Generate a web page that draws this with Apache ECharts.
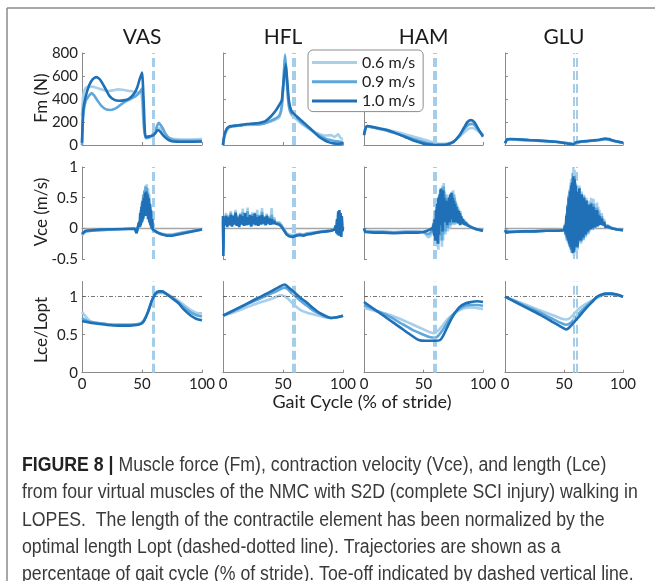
<!DOCTYPE html>
<html><head><meta charset="utf-8">
<script src="https://cdn.jsdelivr.net/npm/echarts@6/dist/echarts.min.js"></script>
<style>html,body{margin:0;padding:0;background:#fff}#c{width:655px;height:581px}</style>
</head><body><div id="c"></div>
<script>
// ---------- DATA ----------
const muscles = ['VAS', 'HFL', 'HAM', 'GLU'];
const speeds = ['0.6 m/s', '0.9 m/s', '1.0 m/s'];
const rowLabels = ['Fm (N)', 'Vce (m/s)', 'Lce/Lopt'];
const xTicks = [0, 50, 100];
const fmTicks = [0, 200, 400, 600, 800];
const vceTicks = [-0.5, 0, 0.5, 1];
const lceTicks = [0, 0.5, 1];
const fmRange = [0, 800];
const vceRange = [-0.5, 1];
const lceRange = [0, 1.2];
const loptValue = 1;
const toeOffVAS = [58.6, 59.8];
const toeOffHFL = [58.2, 59.4];
const toeOffHAM = [58.3, 60.3];
const toeOffGLU = [58.6, 60.4];
const xAxisTitle = 'Gait Cycle (% of stride)';
const captionLines = [
  '{b|FIGURE 8 |} Muscle force (Fm), contraction velocity (Vce), and length (Lce)',
  'from four virtual muscles of the NMC with S2D (complete SCI injury) walking in',
  'LOPES.  The length of the contractile element has been normalized by the',
  'optimal length Lopt (dashed-dotted line). Trajectories are shown as a',
  'percentage of gait cycle (% of stride). Toe-off indicated by dashed vertical line.'
];

// Row 1: muscle force Fm (N), [gait %, value]
const vasFm06 = [[0,250],[1,430],[3,495],[6,510],[10,505],[14,492],[18,478],[22,470],[26,476],[30,484],[34,480],[38,472],[42,466],[46,458],[49,462],[50,400],[51.5,150],[53,65],[56,70],[59,95],[62,135],[65,145],[68,105],[71,70],[75,55],[80,50],[90,48],[100,52]];
const vasFm09 = [[0,0],[1,250],[3,380],[6,430],[8,452],[10,432],[13,385],[16,342],[20,310],[24,305],[28,318],[32,348],[36,378],[40,398],[44,420],[48,458],[50,490],[51.5,200],[53,60],[56,65],[59,90],[62,150],[64,192],[67,150],[70,92],[73,58],[77,42],[85,36],[100,36]];
const vasFm10 = [[0,20],[1,300],[3,420],[6,520],[9,572],[12,590],[15,570],[19,500],[23,425],[27,392],[31,385],[35,388],[39,402],[43,440],[46,500],[48,570],[50,630],[51.5,350],[53,70],[56,75],[59,82],[61,100],[63,130],[65,118],[68,80],[72,45],[76,30],[85,28],[100,30]];
const hflFm06 = [[0,0],[1,60],[3,120],[5,148],[8,160],[12,165],[16,170],[20,175],[25,175],[30,182],[35,190],[40,205],[44,222],[47,245],[49,330],[50.5,560],[51.7,790],[53,600],[54.5,380],[56,290],[58,250],[62,215],[66,180],[70,150],[74,125],[78,105],[82,90],[86,82],[90,86],[93,70],[96,92],[98,60],[100,55]];
const hflFm09 = [[0,0],[1,70],[3,130],[5,155],[8,165],[12,170],[16,175],[20,180],[25,180],[30,178],[35,190],[40,212],[44,232],[47,255],[49,340],[50.5,580],[51.7,780],[53,580],[54.5,370],[56,290],[58,262],[62,232],[66,192],[70,160],[74,128],[78,98],[82,72],[86,52],[90,42],[95,32],[100,26]];
const hflFm10 = [[0,0],[1,80],[3,140],[5,160],[8,165],[12,170],[16,175],[20,182],[25,186],[30,192],[35,205],[40,250],[44,300],[47,350],[49,390],[50.5,550],[52.3,705],[53.5,560],[55,380],[57,295],[60,262],[64,225],[68,188],[72,150],[76,110],[80,72],[84,45],[88,25],[92,14],[96,10],[100,14]];
const hamFm06 = [[0,90],[1.5,150],[3,160],[6,155],[10,150],[15,141],[20,131],[25,119],[30,106],[35,92],[40,78],[45,63],[50,48],[55,33],[60,18],[65,10],[70,12],[75,30],[80,70],[85,118],[88,142],[91,148],[94,135],[97,112],[100,88]];
const hamFm09 = [[0,95],[1.5,155],[3,165],[6,156],[10,146],[15,135],[20,121],[25,106],[30,90],[35,73],[40,56],[45,41],[50,26],[55,13],[60,5],[65,3],[70,8],[75,28],[80,80],[85,148],[88,178],[91,184],[94,160],[97,120],[100,84]];
const hamFm10 = [[0,85],[1.5,150],[3,165],[6,160],[10,151],[15,140],[20,128],[25,110],[30,90],[35,68],[40,46],[45,28],[50,12],[55,4],[60,0],[65,0],[70,5],[75,25],[80,80],[84,150],[87,200],[90,216],[93,196],[96,140],[100,72]];
const gluFm06 = [[0,15],[2,45],[5,48],[10,45],[20,40],[30,35],[40,30],[50,22],[55,15],[58,10],[60,20],[65,28],[70,33],[75,38],[80,42],[85,46],[88,44],[92,35],[96,26],[100,20]];
const gluFm09 = [[0,15],[2,48],[5,50],[10,47],[20,42],[30,36],[40,30],[50,20],[55,12],[58,7],[60,21],[65,29],[70,34],[75,39],[80,44],[85,50],[88,47],[92,36],[96,27],[100,20]];
const gluFm10 = [[0,15],[2,50],[5,52],[10,50],[20,44],[30,38],[40,30],[50,18],[55,10],[58,5],[60,22],[65,30],[70,35],[75,40],[80,46],[85,56],[88,51],[92,38],[96,28],[100,20]];

// Row 2: contraction velocity Vce (m/s)
const vasVce06 = [[0,-0.12],[1,-0.08],[3,-0.05],[8,-0.04],[15,-0.03],[25,-0.02],[35,-0.01],[44,0],[46,-0.05],[47,0.05],[48,0.1],[48.5,0.02],[49,0.25],[49.5,0.1],[50,0.4],[50.5,0.15],[51,0.5],[51.5,0.2],[52,0.6],[52.5,0.3],[53,0.7],[53.5,0.35],[54,0.72],[54.5,0.3],[55,0.65],[55.5,0.2],[56,0.55],[56.5,0.1],[57,0.4],[57.5,0.05],[58,0.25],[58.5,0],[59,0.12],[60,-0.02],[62,-0.05],[65,-0.08],[70,-0.1],[75,-0.1],[80,-0.08],[85,-0.06],[90,-0.05],[95,-0.03],[100,-0.02]];
const vasVce09 = [[0,-0.1],[1,-0.07],[3,-0.05],[8,-0.04],[15,-0.03],[25,-0.02],[35,-0.01],[44,0],[46,-0.04],[47,0.04],[48,0.12],[48.5,0.03],[49,0.3],[49.5,0.08],[50,0.42],[50.5,0.12],[51,0.55],[51.5,0.18],[52,0.62],[52.5,0.25],[53,0.68],[53.5,0.3],[54,0.66],[54.5,0.22],[55,0.58],[55.5,0.15],[56,0.48],[56.5,0.08],[57,0.35],[57.5,0.02],[58,0.2],[58.5,-0.02],[59,0.08],[60,-0.03],[62,-0.06],[65,-0.09],[70,-0.11],[75,-0.11],[80,-0.09],[85,-0.07],[90,-0.05],[95,-0.03],[100,-0.02]];
const vasVce10 = [[0,-0.09],[1,-0.06],[3,-0.04],[8,-0.03],[15,-0.02],[25,-0.015],[35,-0.01],[44,-0.01],[45.5,-0.08],[46.5,0.02],[47.5,0.1],[48,0.02],[48.5,0.25],[49,0.05],[49.5,0.35],[50,0.1],[50.5,0.45],[51,0.15],[51.5,0.5],[52,0.2],[52.5,0.58],[53,0.25],[53.5,0.6],[54,0.2],[54.5,0.55],[55,0.15],[55.5,0.5],[56,0.1],[56.5,0.4],[57,0.05],[57.5,0.3],[58,0],[58.5,0.15],[59,-0.02],[60,-0.04],[63,-0.07],[67,-0.1],[71,-0.12],[75,-0.12],[80,-0.1],[85,-0.08],[90,-0.06],[95,-0.04],[100,-0.02]];
const hflVce06 = [[0,0.1],[0.3,-0.25],[0.7,0.2],[1.5,0.08],[2.5,0.25],[3.5,0.05],[4.5,0.22],[5.5,0.1],[6.5,0.28],[7.5,0.05],[8.5,0.2],[9.5,0.1],[10.5,0.3],[11.5,0.06],[12.5,0.22],[13.5,0.05],[14.5,0.25],[15.5,0.08],[16.5,0.32],[17.5,0.06],[18.5,0.22],[19.5,0.08],[20.5,0.34],[21.5,0.05],[22.5,0.2],[23.5,0.08],[24.5,0.26],[25.5,0.05],[26.5,0.22],[27.5,0.08],[28.5,0.3],[29.5,0.06],[30.5,0.2],[31.5,0.1],[32.5,0.33],[33.5,0.06],[34.5,0.2],[35.5,0.1],[36.5,0.24],[37.5,0.06],[38.5,0.2],[39.5,0.1],[40.5,0.33],[41.5,0.08],[42.5,0.18],[43.5,0.1],[45,0.12],[47,0.1],[49,0.05],[51,-0.02],[53,-0.08],[55,-0.1],[58,-0.11],[61,-0.1],[64,-0.09],[67,-0.1],[70,-0.08],[74,-0.07],[78,-0.06],[82,-0.05],[86,-0.04],[90,-0.03],[93,-0.02],[94,0.02],[94.5,-0.06],[95,0.1],[95.5,-0.08],[96,0.2],[96.5,-0.1],[97,0.22],[97.5,-0.04],[98,0.18],[98.5,-0.1],[99,0.12],[99.5,-0.03],[100,0]];
const hflVce09 = [[0,0.15],[0.3,-0.35],[0.7,0.18],[1.5,0.06],[2.5,0.22],[3.5,0.04],[4.5,0.2],[5.5,0.08],[6.5,0.25],[7.5,0.04],[8.5,0.22],[9.5,0.07],[10.5,0.27],[11.5,0.05],[12.5,0.2],[13.5,0.04],[14.5,0.23],[15.5,0.07],[16.5,0.26],[17.5,0.05],[18.5,0.24],[19.5,0.06],[20.5,0.28],[21.5,0.06],[22.5,0.21],[23.5,0.05],[24.5,0.23],[25.5,0.06],[26.5,0.25],[27.5,0.06],[28.5,0.22],[29.5,0.05],[30.5,0.22],[31.5,0.08],[32.5,0.27],[33.5,0.07],[34.5,0.19],[35.5,0.07],[36.5,0.22],[37.5,0.07],[38.5,0.18],[39.5,0.08],[40.5,0.22],[41.5,0.07],[42.5,0.15],[43.5,0.09],[45,0.11],[47,0.08],[49,0.03],[51,-0.03],[53,-0.09],[55,-0.12],[58,-0.13],[61,-0.11],[64,-0.1],[67,-0.11],[70,-0.09],[74,-0.08],[78,-0.07],[82,-0.05],[86,-0.05],[90,-0.04],[93,-0.02],[94,0.04],[94.5,-0.07],[95,0.12],[95.5,-0.09],[96,0.24],[96.5,-0.11],[97,0.26],[97.5,-0.05],[98,0.22],[98.5,-0.12],[99,0.16],[99.5,-0.04],[100,0.01]];
const hflVce10 = [[0,0.2],[0.3,-0.45],[0.7,0.15],[1.5,0.05],[2.5,0.2],[3.5,0.02],[4.5,0.18],[5.5,0.05],[6.5,0.22],[7.5,0.03],[8.5,0.2],[9.5,0.06],[10.5,0.25],[11.5,0.04],[12.5,0.18],[13.5,0.02],[14.5,0.22],[15.5,0.06],[16.5,0.2],[17.5,0.04],[18.5,0.25],[19.5,0.05],[20.5,0.18],[21.5,0.06],[22.5,0.22],[23.5,0.03],[24.5,0.2],[25.5,0.07],[26.5,0.24],[27.5,0.05],[28.5,0.18],[29.5,0.04],[30.5,0.2],[31.5,0.06],[32.5,0.22],[33.5,0.08],[34.5,0.18],[35.5,0.05],[36.5,0.2],[37.5,0.08],[38.5,0.16],[39.5,0.06],[40.5,0.15],[41.5,0.07],[42.5,0.12],[43.5,0.08],[45,0.1],[47,0.06],[49,0.02],[51,-0.04],[53,-0.1],[55,-0.13],[58,-0.14],[61,-0.12],[64,-0.11],[67,-0.12],[70,-0.1],[74,-0.09],[78,-0.07],[82,-0.06],[86,-0.05],[90,-0.04],[93,-0.02],[94,0.05],[94.5,-0.08],[95,0.15],[95.5,-0.1],[96,0.28],[96.5,-0.12],[97,0.3],[97.5,-0.05],[98,0.25],[98.5,-0.14],[99,0.2],[99.5,-0.05],[100,0.02]];
const hamVce06 = [[0,0],[1,-0.04],[8,-0.05],[16,-0.05],[25,-0.06],[35,-0.05],[45,-0.05],[50,-0.06],[52,-0.1],[54,-0.15],[56,-0.12],[57,-0.05],[58,0.05],[58.5,-0.1],[59,0.2],[59.5,-0.2],[60,0.3],[60.5,-0.25],[61,0.35],[61.5,-0.3],[62,0.4],[62.5,-0.35],[63,0.5],[63.5,-0.2],[64,0.6],[64.5,-0.1],[65,0.55],[65.5,-0.3],[66,0.7],[66.5,-0.2],[67,0.74],[67.5,0],[68,0.6],[68.5,-0.1],[69,0.5],[69.5,0.05],[70,0.55],[70.5,-0.05],[71,0.45],[71.5,0.1],[72,0.5],[72.5,0],[73,0.55],[73.5,0.1],[74,0.6],[74.5,0.05],[75,0.62],[75.5,0.12],[76,0.55],[76.5,0.05],[77,0.45],[77.5,0.1],[78,0.4],[78.5,0.08],[79,0.35],[79.5,0.12],[80,0.3],[80.5,0.05],[81,0.28],[81.5,0.1],[82,0.2],[83,0.08],[84,0.15],[85,0.06],[86,0.1],[88,0.05],[91,0.01],[95,-0.02],[100,-0.04]];
const hamVce09 = [[0,0],[1,-0.05],[8,-0.06],[16,-0.06],[25,-0.07],[35,-0.06],[45,-0.06],[50,-0.06],[52,-0.08],[54,-0.1],[56,-0.07],[57,-0.02],[58,0.03],[58.5,-0.08],[59,0.15],[59.5,-0.15],[60,0.25],[60.5,-0.2],[61,0.38],[61.5,-0.22],[62,0.45],[62.5,-0.25],[63,0.52],[63.5,-0.12],[64,0.62],[64.5,-0.05],[65,0.6],[65.5,-0.2],[66,0.66],[66.5,-0.1],[67,0.68],[67.5,0.05],[68,0.55],[68.5,-0.05],[69,0.48],[69.5,0.08],[70,0.5],[70.5,0],[71,0.48],[71.5,0.12],[72,0.52],[72.5,0.05],[73,0.56],[73.5,0.12],[74,0.58],[74.5,0.08],[75,0.55],[75.5,0.14],[76,0.5],[76.5,0.08],[77,0.42],[77.5,0.12],[78,0.36],[78.5,0.1],[79,0.32],[79.5,0.12],[80,0.28],[80.5,0.06],[81,0.24],[81.5,0.1],[82,0.18],[83,0.08],[84,0.13],[85,0.06],[86,0.09],[88,0.04],[91,0.01],[95,-0.02],[100,-0.04]];
const hamVce10 = [[0,0],[1,-0.06],[8,-0.07],[16,-0.07],[25,-0.08],[35,-0.07],[45,-0.07],[50,-0.06],[53,-0.04],[55,-0.02],[57,0],[58,-0.04],[58.5,0.08],[59,-0.12],[59.5,0.15],[60,-0.2],[60.5,0.3],[61,-0.15],[61.5,0.4],[62,-0.25],[62.5,0.5],[63,-0.1],[63.5,0.55],[64,0.05],[64.5,0.65],[65,0.1],[65.5,0.58],[66,-0.05],[66.5,0.62],[67,0.15],[67.5,0.5],[68,0.1],[68.5,0.45],[69,0.2],[69.5,0.4],[70,0.05],[70.5,0.45],[71,0.15],[71.5,0.5],[72,0.1],[72.5,0.55],[73,0.2],[73.5,0.58],[74,0.15],[74.5,0.5],[75,0.1],[75.5,0.45],[76,0.2],[76.5,0.4],[77,0.1],[77.5,0.35],[78,0.15],[78.5,0.3],[79,0.08],[79.5,0.28],[80,0.12],[80.5,0.25],[81,0.05],[81.5,0.2],[82,0.08],[83,0.15],[84,0.06],[85,0.1],[87,0.05],[90,0.02],[94,-0.01],[100,-0.04]];
const gluVce06 = [[0,-0.02],[1,-0.06],[5,-0.05],[15,-0.05],[25,-0.04],[35,-0.04],[45,-0.03],[50,-0.03],[51,0.08],[51.5,-0.12],[52,0.25],[52.5,-0.2],[53,0.4],[53.5,-0.25],[54,0.55],[54.5,-0.3],[55,0.65],[55.5,-0.35],[56,0.8],[56.5,-0.4],[57,0.9],[57.5,-0.42],[58,1.0],[58.5,-0.45],[59,0.95],[59.5,-0.35],[60,0.75],[60.5,-0.3],[61,0.65],[61.5,-0.35],[62,0.6],[62.5,-0.25],[63,0.7],[63.5,-0.2],[64,0.55],[64.5,-0.25],[65,0.6],[65.5,-0.15],[66,0.5],[66.5,-0.2],[67,0.55],[67.5,-0.1],[68,0.45],[68.5,-0.15],[69,0.5],[69.5,-0.05],[70,0.4],[70.5,-0.1],[71,0.45],[71.5,-0.05],[72,0.4],[72.5,-0.02],[73,0.5],[73.5,0],[74,0.42],[74.5,-0.03],[75,0.48],[75.5,0.02],[76,0.4],[76.5,0],[77,0.38],[77.5,0.05],[78,0.42],[78.5,0.02],[79,0.35],[79.5,0.05],[80,0.3],[81,0.08],[82,0.25],[83,0.05],[84,0.15],[85,0.03],[87,0.05],[90,0.01],[95,-0.02],[100,-0.03]];
const gluVce09 = [[0,-0.03],[1,-0.06],[5,-0.06],[15,-0.05],[25,-0.05],[35,-0.04],[45,-0.04],[50,-0.03],[51,0.06],[51.5,-0.1],[52,0.22],[52.5,-0.18],[53,0.38],[53.5,-0.22],[54,0.52],[54.5,-0.28],[55,0.62],[55.5,-0.32],[56,0.74],[56.5,-0.38],[57,0.82],[57.5,-0.4],[58,0.9],[58.5,-0.4],[59,0.86],[59.5,-0.32],[60,0.72],[60.5,-0.28],[61,0.62],[61.5,-0.32],[62,0.58],[62.5,-0.22],[63,0.66],[63.5,-0.18],[64,0.52],[64.5,-0.22],[65,0.56],[65.5,-0.12],[66,0.48],[66.5,-0.18],[67,0.52],[67.5,-0.08],[68,0.42],[68.5,-0.12],[69,0.46],[69.5,-0.03],[70,0.38],[70.5,-0.08],[71,0.4],[71.5,-0.03],[72,0.38],[72.5,-0.01],[73,0.42],[73.5,0.01],[74,0.36],[74.5,-0.02],[75,0.4],[75.5,0.02],[76,0.34],[76.5,0.01],[77,0.3],[77.5,0.05],[78,0.34],[78.5,0.03],[79,0.28],[79.5,0.05],[80,0.24],[81,0.07],[82,0.2],[83,0.05],[84,0.12],[85,0.03],[87,0.04],[90,0.01],[95,-0.02],[100,-0.03]];
const gluVce10 = [[0,-0.03],[1,-0.07],[5,-0.06],[15,-0.05],[25,-0.05],[35,-0.04],[45,-0.04],[50,-0.03],[51,0.05],[51.5,-0.1],[52,0.2],[52.5,-0.15],[53,0.35],[53.5,-0.2],[54,0.5],[54.5,-0.25],[55,0.6],[55.5,-0.3],[56,0.7],[56.5,-0.35],[57,0.75],[57.5,-0.4],[58,0.85],[58.5,-0.38],[59,0.8],[59.5,-0.3],[60,0.7],[60.5,-0.25],[61,0.6],[61.5,-0.3],[62,0.55],[62.5,-0.2],[63,0.65],[63.5,-0.15],[64,0.5],[64.5,-0.2],[65,0.55],[65.5,-0.1],[66,0.45],[66.5,-0.15],[67,0.5],[67.5,-0.05],[68,0.4],[68.5,-0.1],[69,0.45],[69.5,0],[70,0.35],[70.5,-0.05],[71,0.38],[71.5,0],[72,0.35],[72.5,-0.02],[73,0.4],[73.5,0.02],[74,0.3],[74.5,0],[75,0.35],[75.5,0.03],[76,0.3],[76.5,0.02],[77,0.25],[77.5,0.05],[78,0.3],[78.5,0.04],[79,0.22],[79.5,0.05],[80,0.2],[81,0.06],[82,0.16],[83,0.05],[84,0.1],[85,0.02],[87,0.03],[90,0],[95,-0.02],[100,-0.03]];

// Row 3: normalized fibre length Lce/Lopt
const vasLce06 = [[0,0.8],[3,0.74],[6,0.69],[10,0.66],[15,0.65],[20,0.64],[30,0.63],[40,0.63],[47,0.64],[50,0.66],[52,0.7],[55,0.8],[58,0.93],[61,1.02],[64,1.05],[67,1.05],[70,1.04],[75,1.0],[80,0.95],[85,0.89],[90,0.83],[95,0.79],[100,0.78]];
const vasLce09 = [[0,0.72],[3,0.69],[6,0.67],[10,0.66],[15,0.65],[20,0.64],[30,0.63],[40,0.63],[47,0.64],[50,0.66],[52,0.7],[55,0.8],[58,0.93],[61,1.03],[64,1.06],[67,1.06],[70,1.04],[75,0.99],[80,0.93],[85,0.86],[90,0.8],[95,0.76],[100,0.74]];
const vasLce10 = [[0,0.68],[3,0.67],[6,0.66],[10,0.65],[15,0.64],[20,0.63],[30,0.62],[40,0.62],[47,0.63],[50,0.65],[52,0.69],[55,0.8],[58,0.94],[61,1.04],[64,1.07],[67,1.07],[70,1.04],[75,0.98],[80,0.92],[85,0.83],[90,0.76],[95,0.71],[100,0.69]];
const hflLce06 = [[0,0.75],[10,0.8],[20,0.86],[30,0.92],[40,0.97],[46,1.01],[49,1.02],[52,1.0],[55,0.96],[58,0.91],[61,0.87],[65,0.82],[70,0.79],[75,0.77],[80,0.75],[85,0.73],[90,0.72],[95,0.73],[100,0.75]];
const hflLce09 = [[0,0.75],[10,0.82],[20,0.9],[30,0.97],[40,1.04],[47,1.09],[51,1.12],[54,1.1],[57,1.05],[60,1.01],[65,0.94],[70,0.88],[75,0.82],[80,0.78],[85,0.74],[90,0.72],[95,0.73],[100,0.75]];
const hflLce10 = [[0,0.75],[10,0.83],[20,0.91],[30,0.99],[40,1.07],[47,1.13],[51.5,1.16],[54,1.13],[57,1.09],[60,1.05],[65,0.98],[70,0.92],[75,0.85],[80,0.79],[85,0.75],[90,0.72],[95,0.73],[100,0.75]];
const hamLce06 = [[0,0.85],[10,0.81],[20,0.77],[30,0.71],[40,0.64],[50,0.57],[56,0.53],[59,0.52],[62,0.55],[66,0.62],[70,0.7],[75,0.77],[80,0.82],[85,0.85],[90,0.86],[95,0.85],[100,0.84]];
const hamLce09 = [[0,0.89],[10,0.82],[20,0.75],[30,0.66],[40,0.57],[50,0.5],[55,0.47],[59,0.46],[62,0.48],[66,0.56],[70,0.66],[75,0.77],[80,0.84],[85,0.88],[90,0.89],[95,0.89],[100,0.88]];
const hamLce10 = [[0,0.93],[10,0.82],[20,0.71],[30,0.6],[40,0.49],[46,0.43],[52,0.42],[60,0.42],[64,0.43],[67,0.5],[70,0.6],[75,0.75],[80,0.86],[85,0.91],[90,0.93],[95,0.94],[100,0.93]];
const gluLce06 = [[0,1.0],[10,0.94],[20,0.88],[30,0.82],[40,0.76],[48,0.71],[52,0.7],[56,0.73],[60,0.8],[65,0.87],[70,0.92],[75,0.96],[80,1.0],[85,1.03],[90,1.03],[95,1.02],[100,1.0]];
const gluLce09 = [[0,1.0],[10,0.93],[20,0.86],[30,0.79],[40,0.71],[48,0.65],[52,0.63],[56,0.66],[60,0.73],[65,0.82],[70,0.89],[75,0.96],[80,1.01],[85,1.04],[90,1.04],[95,1.02],[100,1.0]];
const gluLce10 = [[0,1.0],[10,0.92],[20,0.84],[30,0.76],[40,0.67],[48,0.6],[52,0.57],[56,0.62],[60,0.69],[65,0.78],[70,0.87],[75,0.95],[78,1.0],[82,1.03],[88,1.04],[95,1.03],[100,1.0]];

// ---------- ASSEMBLY ----------
const rowData = [
  [[vasFm06, vasFm09, vasFm10], [hflFm06, hflFm09, hflFm10], [hamFm06, hamFm09, hamFm10], [gluFm06, gluFm09, gluFm10]],
  [[vasVce06, vasVce09, vasVce10], [hflVce06, hflVce09, hflVce10], [hamVce06, hamVce09, hamVce10], [gluVce06, gluVce09, gluVce10]],
  [[vasLce06, vasLce09, vasLce10], [hflLce06, hflLce09, hflLce10], [hamLce06, hamLce09, hamLce10], [gluLce06, gluLce09, gluLce10]]
];
const toeOffs = [toeOffVAS, toeOffHFL, toeOffHAM, toeOffGLU];
const rowRanges = [fmRange, vceRange, lceRange];
const rowTicks = [fmTicks, vceTicks, lceTicks];

// styles / layout
const F = 'Lato, "Open Sans", sans-serif';
const CF = '"Liberation Sans", Arial, sans-serif';
const speedColors = ['#a8cfea', '#5ea7da', '#1f70b6'];
const axisGray = '#8a8a8a';
const colLeft = [82, 223, 364, 505];
const colW = [120, 120, 119, 118];
const rowTop = [53, 167, 281.5];
const rowH = [92, 92, 91.2];
const rowSmooth = [0.2, false, 0.3];

const grids = [], xAxes = [], yAxes = [], series = [];
for (let r = 0; r < 3; r++) {
  for (let c = 0; c < 4; c++) {
    const i = r * 4 + c;
    grids.push({ left: colLeft[c], top: rowTop[r], width: colW[c], height: rowH[r], outerBoundsMode: 'none' });
    xAxes.push({
      type: 'value', gridIndex: i, min: 0, max: 100, interval: 50,
      axisLine: { show: true, onZero: true, lineStyle: { color: r === 1 ? '#a6a6a6' : axisGray, width: r === 1 ? 1.4 : 1 } },
      axisTick: { show: r !== 1, inside: true, length: 3, lineStyle: { color: axisGray } },
      axisLabel: { show: r === 2, margin: 4, fontSize: 15, fontFamily: F, color: '#222', customValues: xTicks },
      splitLine: { show: false }
    });
    yAxes.push({
      type: 'value', gridIndex: i, min: rowRanges[r][0], max: rowRanges[r][1],
      axisLine: { show: true, onZero: false, lineStyle: { color: axisGray, width: 1 } },
      axisTick: { show: true, inside: true, length: 3, lineStyle: { color: axisGray }, customValues: rowTicks[r] },
      axisLabel: { show: c === 0, margin: 4, fontSize: 15, fontFamily: F, color: '#222', customValues: rowTicks[r] },
      splitLine: { show: false }
    });
    const ml = toeOffs[c].map(v => ({ xAxis: v, lineStyle: { type: [9, 4], color: '#a3cde9', width: 2 } }));
    if (r === 2) ml.push({ yAxis: loptValue, lineStyle: { type: [4, 2, 1, 2], color: '#555', width: 0.8 } });
    series.push({
      type: 'line', xAxisIndex: i, yAxisIndex: i, data: [], z: 1, silent: true,
      markLine: { silent: true, symbol: ['none', 'none'], label: { show: false }, animation: false, data: ml }
    });
    for (let s = 0; s < 3; s++) {
      series.push({
        name: speeds[s], type: 'line', xAxisIndex: i, yAxisIndex: i,
        data: rowData[r][c][s], symbol: 'none', showSymbol: false,
        smooth: rowSmooth[r], z: 3 + s,
        lineStyle: { color: speedColors[s], width: 2.6 }, itemStyle: { color: speedColors[s] }
      });
    }
  }
}

const graphics = [
  { type: 'line', shape: { x1: 7, y1: 8, x2: 7, y2: 581 }, style: { stroke: '#8a8a8a', lineWidth: 1.5 } },
  { type: 'line', shape: { x1: 7, y1: 8, x2: 655, y2: 8 }, style: { stroke: '#8a8a8a', lineWidth: 1.5 } },
  { type: 'text', x: 362, y: 402, style: { text: xAxisTitle, fontSize: 18, fontFamily: F, fill: '#222', align: 'center', verticalAlign: 'middle' } }
];
const rowLabelY = [98, 212, 330];
rowLabels.forEach((t, r) => graphics.push({
  type: 'text', x: 42, y: rowLabelY[r], rotation: Math.PI / 2,
  style: { text: t, fontSize: 17, fontFamily: F, fill: '#222', align: 'center', verticalAlign: 'middle' }
}));
muscles.forEach((m, c) => graphics.push({
  type: 'text', x: colLeft[c] + colW[c] / 2, y: 37,
  style: { text: m, fontSize: 21, fontFamily: F, fill: '#1a1a1a', align: 'center', verticalAlign: 'middle' }
}));
const capY = [465, 492.5, 520, 547, 574];
captionLines.forEach((t, k) => graphics.push({
  type: 'text', x: 22, y: capY[k], scaleX: 0.885,
  style: { text: t, fontSize: 20, fontFamily: CF, fill: '#3a3a3a', align: 'left', verticalAlign: 'middle',
    rich: { b: { fontSize: 20, fontFamily: CF, fontWeight: 'bold', fill: '#222' } } }
}));

const chart = echarts.init(document.getElementById('c'), null, { renderer: 'canvas' });
chart.setOption({
  animation: false,
  backgroundColor: '#fff',
  grid: grids, xAxis: xAxes, yAxis: yAxes, series: series,
  legend: {
    data: speeds, left: 308, top: 50, orient: 'vertical', z: 20,
    icon: 'rect', itemWidth: 45, itemHeight: 3, itemGap: 3.3, padding: [4.5, 8, 2.5, 4],
    borderColor: '#8c8c8c', borderWidth: 1, borderRadius: 5, backgroundColor: '#fff',
    textStyle: { fontSize: 16, fontFamily: F, color: '#222', lineHeight: 16 }
  },
  graphic: graphics
});
</script>
</body></html>
